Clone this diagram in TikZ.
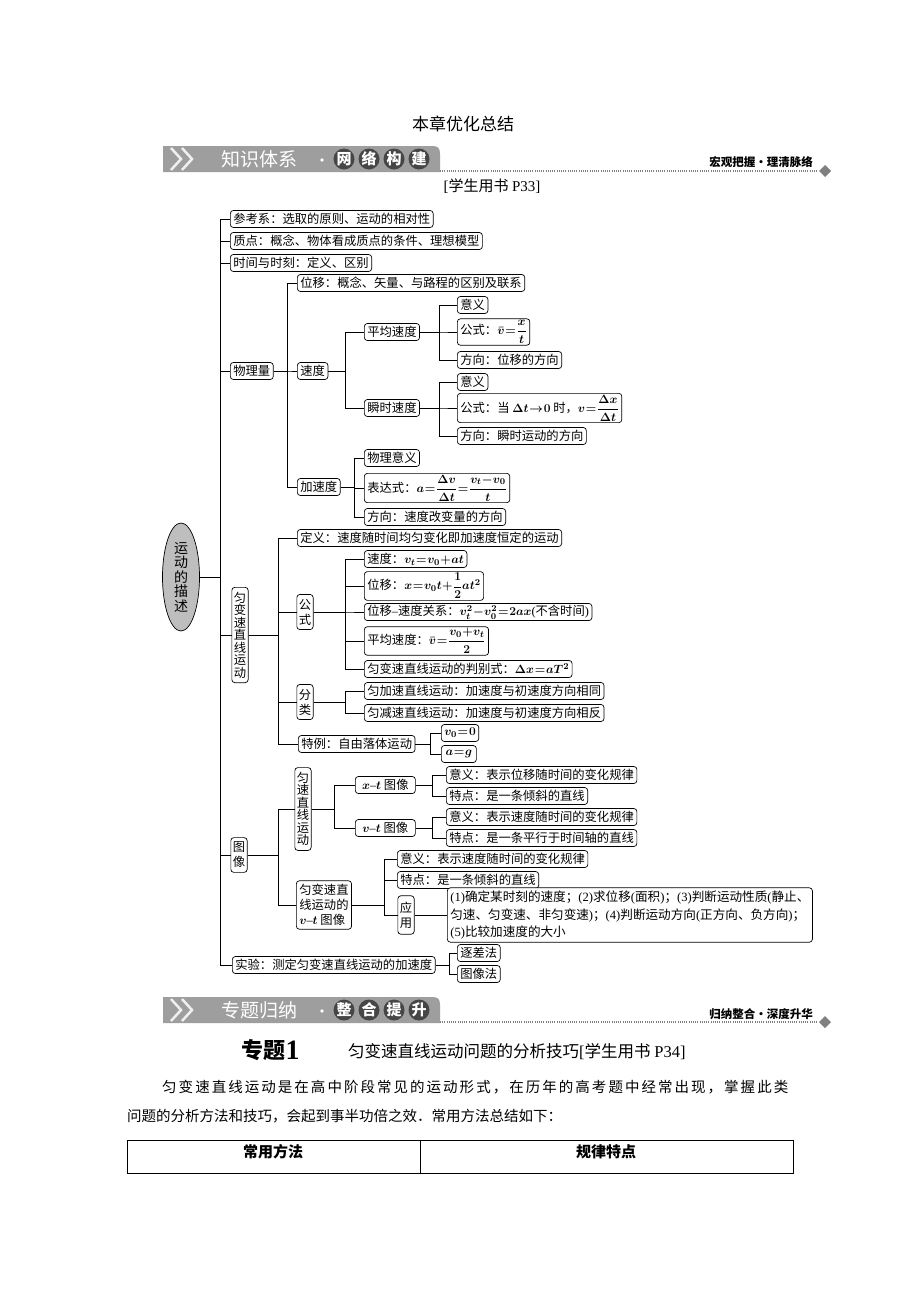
\documentclass[tikz,border=0pt]{standalone}
\usepackage[no-math]{fontspec}
\usepackage{amsmath}
\usetikzlibrary{shapes.geometric}
\setmainfont{Noto Sans CJK SC}
\newfontfamily\latf{Liberation Serif}
\newcommand\lat[1]{{\latf #1}}
\newcommand\tightmath{\thickmuskip=1mu plus 1mu\medmuskip=0.5mu plus 0.5mu}
\newcommand\bx{\fontsize{12.3}{13}\selectfont\boldmath\tightmath}
\definecolor{bannergray}{RGB}{158,158,158}
\definecolor{circgray}{RGB}{70,70,70}
\definecolor{rootgray}{RGB}{190,190,190}
\tikzset{
  box/.style={draw, line width=0.7pt, rounded corners=3pt, fill=white, inner xsep=3pt, inner ysep=1.5pt, minimum height=17pt, anchor=west, font=\bx},
  vbox/.style={box, anchor=center, align=center, inner xsep=2pt, inner ysep=4.5pt, font=\fontsize{12.3}{12.5}\selectfont},
  vbox2/.style={box, anchor=center, align=center, inner xsep=2pt, inner ysep=4.5pt, font=\fontsize{12.3}{15}\selectfont},
  ln/.style={line width=0.7pt},
  bannertxt/.style={text=white, font=\fontsize{19}{19}\selectfont, inner sep=0pt},
  bannercirc/.style={circle, fill=circgray, text=white, inner sep=0pt, minimum size=21pt, font=\fontsize{15}{15}\selectfont\bfseries},
  sidelbl/.style={anchor=east, font=\fontsize{11.5}{12}\selectfont\bfseries, inner sep=0pt},
}
\newcommand\br[3]{\draw[ln] (#1.east) -- (#1.east -| #2) |- (#3.west);}
\begin{document}
\begin{tikzpicture}[x=1pt,y=-1pt]
\useasboundingbox (0,0) rectangle (920,1302);
\fill[white] (0,0) rectangle (920,1302);

% ---------- title ----------
\node[font=\fontsize{17}{17}\selectfont] (title) at (463,124) {本章优化总结};

% ---------- banner 1 ----------
\fill[bannergray] (163,172) -- (163,146) -- (432,146) .. controls (438,146) and (440,148) .. (440,154) -- (440,172) -- cycle;
\draw[white!88!gray, line width=2.5pt] (171,148) -- (181,159) -- (171,170);
\draw[white!88!gray, line width=2.5pt] (182,148) -- (192,159) -- (182,170);
\node[bannertxt, anchor=west] (bt1) at (221,159) {知识体系};
\fill[white] (322,160) circle (1.8);
\node[bannercirc] (bc1) at (344,159) {网};
\node[bannercirc] (bc2) at (369,159) {络};
\node[bannercirc] (bc3) at (394,159) {构};
\node[bannercirc] (bc4) at (419,159) {建};
\draw[gray, line width=2pt, dash pattern=on 1pt off 1.2pt] (440,171) -- (818,171);
\fill[gray] (825,165) -- (831,171) -- (825,177) -- (819,171) -- cycle;
\node[sidelbl] (sl1) at (813,162) {宏观把握·理清脉络};
\node[font=\fontsize{15}{15}\selectfont] (ref1) at (492,186) {\lat{[}学生用书 \lat{P33]}};

% ---------- tree ----------
\coordinate (x0) at (220,0);
\coordinate (x1) at (287,0);
\coordinate (x2) at (345,0);
\coordinate (x3) at (439,0);
\coordinate (x4) at (354,0);
\coordinate (x5) at (278,0);
\coordinate (x6) at (430,0);
\coordinate (x7) at (334,0);
\coordinate (x8) at (432,0);
\coordinate (x9) at (384,0);
\coordinate (x10) at (449,0);

\node[ellipse, draw, line width=0.7pt, fill=rootgray, minimum width=37pt, minimum height=108pt, inner sep=0pt, align=center, font=\fontsize{14}{14.5}\selectfont] (root) at (181,577) {运\\动\\的\\描\\述};

\node[box] (n1) at (230,219) {参考系：选取的原则、运动的相对性};
\node[box] (n2) at (230,241) {质点：概念、物体看成质点的条件、理想模型};
\node[box] (n3) at (230,263) {时间与时刻：定义、区别};
\node[box] (wl) at (230,371) {物理量};
\node[vbox] (ybs) at (240,635) {匀\\变\\速\\直\\线\\运\\动};
\node[vbox2] (tx) at (239,855) {图\\像};
\node[box] (sy) at (232,965) {实验：测定匀变速直线运动的加速度};

% 物理量
\node[box] (wy) at (297,283) {位移：概念、矢量、与路程的区别及联系};
\node[box] (sd) at (297,371) {速度};
\node[box] (jsd) at (297,487) {加速度};

\node[box] (pj) at (364,332) {平均速度};
\node[box] (ss) at (364,408) {瞬时速度};

\node[box] (pj1) at (457,305) {意义};
\node[box] (pj2) at (457,332) {公式：$\bar v=\dfrac{x}{t}$};
\node[box] (pj3) at (457,360) {方向：位移的方向};

\node[box] (ss1) at (457,382) {意义};
\node[box] (ss2) at (457,408) {公式：当 $\mathbf{\Delta} t\to 0$ 时，$v=\dfrac{\mathbf{\Delta} x}{\mathbf{\Delta} t}$};
\node[box] (ss3) at (457,436) {方向：瞬时运动的方向};

\node[box] (a1) at (364,458) {物理意义};
\node[box] (a2) at (364,488) {表达式：$a=\dfrac{\mathbf{\Delta} v}{\mathbf{\Delta} t}=\dfrac{v_t-v_0}{t}$};
\node[box] (a3) at (364,517) {方向：速度改变量的方向};

% 匀变速直线运动
\node[box] (d1) at (297,538) {定义：速度随时间均匀变化即加速度恒定的运动};
\node[vbox2] (gs) at (305,612) {公\\式};
\node[vbox2] (fl) at (305,702) {分\\类};
\node[box] (tl) at (298,744) {特例：自由落体运动};

\node[box] (g1) at (364,559) {速度：$v_t=v_0+at$};
\node[box] (g2) at (364,586) {位移：$x=v_0t+\dfrac{1}{2}at^2$};
\node[box] (g3) at (364,612) {位移\lat{–}速度关系：$v_t^2-v_0^2=2ax$\lat{(}不含时间\lat{)}};
\node[box] (g4) at (364,641) {平均速度：$\bar v=\dfrac{v_0+v_t}{2}$};
\node[box] (g5) at (364,669) {匀变速直线运动的判别式：$\mathbf{\Delta} x=aT^2$};

\node[box] (f1) at (364,691) {匀加速直线运动：加速度与初速度方向相同};
\node[box] (f2) at (364,713) {匀减速直线运动：加速度与初速度方向相反};

\node[box, minimum width=35pt] (t1) at (441,733) {$v_0=0$};
\node[box, minimum width=35pt] (t2) at (441,754) {$a=g$};

% 图像
\node[vbox] (ys) at (303,809) {匀\\速\\直\\线\\运\\动};
\node[box, align=left, inner ysep=3.5pt, font=\fontsize{12.3}{15}\selectfont\boldmath] (ybv) at (296,905) {匀变速直\\线运动的\\$v$\lat{–}$t$ 图像};

\node[box, minimum width=60pt] (xt) at (355,785) {$x$\lat{–}$t$ 图像};
\node[box, minimum width=60pt] (vt) at (355,828) {$v$\lat{–}$t$ 图像};

\node[box] (xt1) at (446,775) {意义：表示位移随时间的变化规律};
\node[box] (xt2) at (446,796) {特点：是一条倾斜的直线};
\node[box] (vt1) at (446,817) {意义：表示速度随时间的变化规律};
\node[box] (vt2) at (446,838) {特点：是一条平行于时间轴的直线};

\node[box] (yb1) at (397,859) {意义：表示速度随时间的变化规律};
\node[box] (yb2) at (397,880) {特点：是一条倾斜的直线};
\node[vbox2, inner ysep=6pt] (yy) at (406,915) {应\\用};
\node[box, align=left, inner ysep=3pt, font=\fontsize{12.6}{17.5}\selectfont] (app) at (447,915) {\lat{(1)}确定某时刻的速度；\lat{(2)}求位移\lat{(}面积\lat{)}；\lat{(3)}判断运动性质\lat{(}静止、\\匀速、匀变速、非匀变速\lat{)}；\lat{(4)}判断运动方向\lat{(}正方向、负方向\lat{)}；\\\lat{(5)}比较加速度的大小};

\node[box] (zc) at (457,953) {逐差法};
\node[box] (tx2) at (457,974) {图像法};

% connectors
\br{root}{x0}{n1}
\br{root}{x0}{n2}
\br{root}{x0}{n3}
\br{root}{x0}{wl}
\br{root}{x0}{ybs}
\br{root}{x0}{tx}
\br{root}{x0}{sy}

\br{wl}{x1}{wy}
\br{wl}{x1}{sd}
\br{wl}{x1}{jsd}
\br{sd}{x2}{pj}
\br{sd}{x2}{ss}
\br{pj}{x3}{pj1}
\br{pj}{x3}{pj2}
\br{pj}{x3}{pj3}
\br{ss}{x3}{ss1}
\br{ss}{x3}{ss2}
\br{ss}{x3}{ss3}
\br{jsd}{x4}{a1}
\br{jsd}{x4}{a2}
\br{jsd}{x4}{a3}

\br{ybs}{x5}{d1}
\br{ybs}{x5}{gs}
\br{ybs}{x5}{fl}
\br{ybs}{x5}{tl}
\br{gs}{x2}{g1}
\br{gs}{x2}{g2}
\br{gs}{x2}{g3}
\br{gs}{x2}{g4}
\br{gs}{x2}{g5}
\br{fl}{x2}{f1}
\br{fl}{x2}{f2}
\br{tl}{x6}{t1}
\br{tl}{x6}{t2}

\br{tx}{x5}{ys}
\br{tx}{x5}{ybv}
\br{ys}{x7}{xt}
\br{ys}{x7}{vt}
\br{xt}{x8}{xt1}
\br{xt}{x8}{xt2}
\br{vt}{x8}{vt1}
\br{vt}{x8}{vt2}
\br{ybv}{x9}{yb1}
\br{ybv}{x9}{yb2}
\br{ybv}{x9}{yy}
\draw[ln] (yy.east) -- (app.west);
\br{sy}{x10}{zc}
\br{sy}{x10}{tx2}

% ---------- banner 2 ----------
\fill[bannergray] (163,1023) -- (163,997) -- (432,997) .. controls (438,997) and (440,999) .. (440,1005) -- (440,1023) -- cycle;
\draw[white!88!gray, line width=2.5pt] (171,999) -- (181,1010) -- (171,1021);
\draw[white!88!gray, line width=2.5pt] (182,999) -- (192,1010) -- (182,1021);
\node[bannertxt, anchor=west] (bt2) at (221,1010) {专题归纳};
\fill[white] (322,1011) circle (1.8);
\node[bannercirc] (bd1) at (344,1010) {整};
\node[bannercirc] (bd2) at (369,1010) {合};
\node[bannercirc] (bd3) at (394,1010) {提};
\node[bannercirc] (bd4) at (419,1010) {升};
\draw[gray, line width=2pt, dash pattern=on 1pt off 1.2pt] (440,1022) -- (818,1022);
\fill[gray] (825,1016) -- (831,1022) -- (825,1028) -- (819,1022) -- cycle;
\node[sidelbl] (sl2) at (813,1014) {归纳整合·深度升华};

% ---------- topic ----------
\node[anchor=west, inner sep=0pt, font=\fontsize{22}{22}\selectfont\bfseries] (zt) at (241,1050) {专题};
\node[anchor=west, inner sep=0pt, font=\latf\fontsize{28}{28}\selectfont\bfseries] (zt1) at (zt.east) {1};
\node[anchor=west, inner sep=0pt, font=\fontsize{16.5}{17}\selectfont] (ztt) at (348,1052) {匀变速直线运动问题的分析技巧\lat{[}学生用书 \lat{P34]}};

\node[anchor=west, inner sep=0pt, font=\fontsize{14.5}{15}\selectfont\addfontfeature{LetterSpace=14}] (p1) at (162,1087) {匀变速直线运动是在高中阶段常见的运动形式，在历年的高考题中经常出现，掌握此类};
\node[anchor=west, inner sep=0pt, font=\fontsize{14.5}{15}\selectfont] (p2) at (127,1116) {问题的分析方法和技巧，会起到事半功倍之效．常用方法总结如下：};

% ---------- table ----------
\draw[line width=0.9pt] (127,1140) rectangle (793,1173);
\draw[line width=0.9pt] (420,1140) -- (420,1173);
\node[font=\fontsize{15}{15}\selectfont\bfseries] (th1) at (273,1152) {常用方法};
\node[font=\fontsize{15}{15}\selectfont\bfseries] (th2) at (606,1152) {规律特点};
\end{tikzpicture}
\end{document}
